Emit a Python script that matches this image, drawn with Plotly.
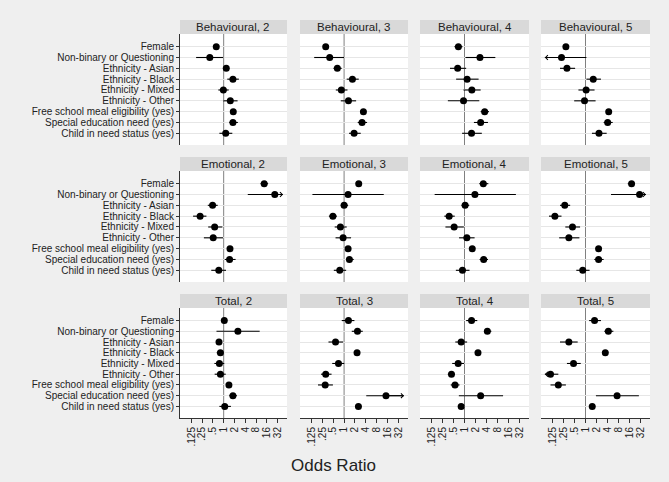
import math
import plotly.graph_objects as go
from plotly.subplots import make_subplots

categories = ["Female", "Non-binary or Questioning", "Ethnicity - Asian", "Ethnicity - Black",
              "Ethnicity - Mixed", "Ethnicity - Other", "Free school meal eligibility (yes)",
              "Special education need (yes)", "Child in need status (yes)"]

panel_titles = ["Behavioural, 2", "Behavioural, 3", "Behavioural, 4", "Behavioural, 5",
                "Emotional, 2", "Emotional, 3", "Emotional, 4", "Emotional, 5",
                "Total, 2", "Total, 3", "Total, 4", "Total, 5"]

tick_vals = [0.125, 0.25, 0.5, 1, 2, 4, 8, 16, 32]
tick_text = [".125", ".25", ".5", "1", "2", "4", "8", "16", "32"]

beh2_or = [0.62, 0.41, 1.18, 1.81, 0.98, 1.53, 1.85, 1.81, 1.14]
beh2_lo = [0.56, 0.17, 1.05, 1.26, 0.71, 0.97, 1.68, 1.43, 0.76]
beh2_hi = [0.69, 0.98, 1.32, 2.65, 1.38, 2.44, 2.04, 2.49, 1.74]

beh3_or = [0.31, 0.40, 0.65, 1.70, 0.84, 1.32, 3.42, 3.14, 1.89]
beh3_lo = [0.28, 0.149, 0.51, 1.18, 0.59, 0.81, 3.10, 2.38, 1.37]
beh3_hi = [0.34, 1.00, 0.86, 2.54, 1.24, 2.15, 3.80, 4.32, 2.88]

beh4_or = [0.68, 2.65, 0.65, 1.18, 1.59, 0.94, 3.57, 2.77, 1.56]
beh4_lo = [0.53, 1.06, 0.40, 0.59, 0.94, 0.35, 2.77, 1.81, 0.86]
beh4_hi = [0.88, 7.00, 1.11, 2.43, 2.77, 2.54, 4.70, 4.39, 2.98]

beh5_or = [0.29, 0.22, 0.31, 1.63, 1.04, 0.94, 4.32, 4.05, 2.34]
beh5_lo = [0.26, 0.05, 0.20, 1.06, 0.64, 0.49, 3.90, 3.14, 1.50]
beh5_hi = [0.33, 1.06, 0.52, 2.65, 1.77, 1.89, 4.80, 5.56, 3.80]

emo2_or = [13.5, 26.7, 0.49, 0.22, 0.56, 0.51, 1.50, 1.46, 0.73]
emo2_lo = [10.7, 4.7, 0.36, 0.14, 0.37, 0.28, 1.38, 1.07, 0.45]
emo2_hi = [17.4, 150.0, 0.68, 0.33, 0.92, 0.96, 1.63, 2.15, 1.16]

emo3_or = [2.54, 1.29, 1.00, 0.49, 0.79, 0.94, 1.29, 1.40, 0.76]
emo3_lo = [2.30, 0.133, 0.81, 0.38, 0.55, 0.58, 1.18, 1.14, 0.52]
emo3_hi = [2.80, 12.5, 1.29, 0.63, 1.18, 1.56, 1.41, 1.85, 1.14]

emo4_or = [3.28, 1.93, 1.04, 0.38, 0.52, 1.16, 1.63, 3.35, 0.88]
emo4_lo = [2.54, 0.152, 0.83, 0.28, 0.30, 0.71, 1.45, 2.59, 0.58]
emo4_hi = [4.50, 25.6, 1.35, 0.54, 0.96, 1.89, 1.80, 4.40, 1.37]

emo5_or = [18.3, 30.3, 0.27, 0.145, 0.44, 0.35, 2.28, 2.28, 0.84]
emo5_lo = [14.4, 5.0, 0.20, 0.10, 0.28, 0.19, 2.10, 1.74, 0.56]
emo5_hi = [22.6, 180.0, 0.38, 0.22, 0.71, 0.68, 2.50, 3.14, 1.29]

tot2_or = [1.04, 2.49, 0.74, 0.81, 0.76, 0.81, 1.40, 1.81, 1.07]
tot2_lo = [0.95, 0.63, 0.68, 0.64, 0.55, 0.56, 1.28, 1.43, 0.76]
tot2_hi = [1.15, 10.1, 0.82, 1.00, 1.04, 1.14, 1.52, 2.34, 1.59]

tot3_or = [1.32, 2.34, 0.58, 2.28, 0.70, 0.31, 0.30, 14.4, 2.49]
tot3_lo = [0.86, 1.63, 0.37, 2.10, 0.47, 0.23, 0.19, 4.1, 2.30]
tot3_hi = [1.93, 3.28, 0.94, 2.48, 1.02, 0.45, 0.49, 250.0, 2.70]

tot4_or = [1.56, 4.23, 0.81, 2.34, 0.67, 0.44, 0.55, 2.77, 0.81]
tot4_lo = [1.11, 3.42, 0.56, 2.15, 0.46, 0.35, 0.42, 0.70, 0.74]
tot4_hi = [2.24, 5.44, 1.18, 2.55, 0.98, 0.54, 0.73, 11.4, 0.88]

tot5_or = [1.77, 4.23, 0.35, 3.49, 0.47, 0.110, 0.18, 7.33, 1.53]
tot5_lo = [1.26, 3.28, 0.20, 3.20, 0.31, 0.05, 0.11, 1.93, 1.40]
tot5_hi = [2.65, 5.80, 0.61, 3.80, 0.74, 0.18, 0.29, 29.0, 1.67]

panels = [
    (beh2_or, beh2_lo, beh2_hi), (beh3_or, beh3_lo, beh3_hi), (beh4_or, beh4_lo, beh4_hi), (beh5_or, beh5_lo, beh5_hi),
    (emo2_or, emo2_lo, emo2_hi), (emo3_or, emo3_lo, emo3_hi), (emo4_or, emo4_lo, emo4_hi), (emo5_or, emo5_lo, emo5_hi),
    (tot2_or, tot2_lo, tot2_hi), (tot3_or, tot3_lo, tot3_hi), (tot4_or, tot4_lo, tot4_hi), (tot5_or, tot5_lo, tot5_hi),
]

W, H = 669, 482
CLIP_LO = 2 ** -3.7
CLIP_HI = 2 ** 5.5
XRANGE = [math.log10(2 ** -4.05), math.log10(2 ** 5.87)]

col_px = [(180, 287), (300, 408), (420, 529), (541, 650)]
row_px = [(34, 145), (171, 282), (308, 418)]
hdr_h = 14

FONT = "Liberation Sans, Arial, sans-serif"

fig = make_subplots(rows=3, cols=4, shared_xaxes=False, shared_yaxes=False)

for idx, (ors, los, his) in enumerate(panels):
    r, c = idx // 4, idx % 4
    xs, ys = [], []
    for cat, lo, hi in zip(categories, los, his):
        xs += [max(lo, CLIP_LO), min(hi, CLIP_HI), None]
        ys += [cat, cat, None]
    fig.add_trace(go.Scatter(x=xs, y=ys, mode="lines", line=dict(color="black", width=1.1),
                             hoverinfo="skip", showlegend=False), row=r + 1, col=c + 1)
    fig.add_trace(go.Scatter(x=ors, y=categories, mode="markers",
                             marker=dict(color="black", size=7, symbol="circle"),
                             showlegend=False), row=r + 1, col=c + 1)
    n = idx + 1
    xref = "x" if n == 1 else f"x{n}"
    yref = "y" if n == 1 else f"y{n}"
    for cat, o, lo, hi in zip(categories, ors, los, his):
        if lo < CLIP_LO:
            fig.add_annotation(x=math.log10(CLIP_LO), y=cat, ax=math.log10(o), ay=cat,
                               xref=xref, yref=yref, axref=xref, ayref=yref, text="",
                               showarrow=True, arrowhead=4, arrowsize=0.9, arrowwidth=1,
                               arrowcolor="black", standoff=0, startstandoff=0)
        if hi > CLIP_HI:
            fig.add_annotation(x=math.log10(CLIP_HI), y=cat, ax=math.log10(o), ay=cat,
                               xref=xref, yref=yref, axref=xref, ayref=yref, text="",
                               showarrow=True, arrowhead=4, arrowsize=0.9, arrowwidth=1,
                               arrowcolor="black", standoff=0, startstandoff=0)
    fig.add_shape(type="line", xref=xref, yref=f"{yref} domain", x0=1, x1=1, y0=0, y1=1,
                  line=dict(color="#808080", width=1), layer="below")

    x0, x1 = col_px[c]
    y0, y1 = row_px[r]
    xd = [x0 / W, x1 / W]
    yd = [1 - y1 / H, 1 - y0 / H]
    bottom = (r == 2)
    left = (c == 0)
    fig.update_xaxes(row=r + 1, col=c + 1, type="log", range=XRANGE, domain=xd, automargin=False,
                     tickmode="array", tickvals=tick_vals, ticktext=tick_text, showticklabels=bottom,
                     ticks="outside" if bottom else "", ticklen=4, tickcolor="#333",
                     tickangle=-90, tickfont=dict(size=10, color="#222", family=FONT),
                     showgrid=False, zeroline=False, showline=bottom, linecolor="#333",
                     linewidth=1, mirror=False)
    fig.update_yaxes(row=r + 1, col=c + 1, type="category", categoryorder="array",
                     categoryarray=categories, range=[9.08, -1.17], domain=yd, automargin=False,
                     tickmode="array", tickvals=categories, ticktext=categories,
                     showticklabels=left, ticks="outside" if left else "", ticklen=3,
                     tickcolor="#333", tickfont=dict(size=10, color="#222", family=FONT),
                     showgrid=True, gridcolor="#e6e6e6", gridwidth=1, zeroline=False,
                     showline=left, linecolor="#333", linewidth=1)
    fig.add_shape(type="rect", xref="paper", yref="paper", x0=xd[0], x1=xd[1],
                  y0=1 - y0 / H, y1=1 - (y0 - hdr_h) / H, fillcolor="#d9d9d9",
                  line=dict(width=0), layer="below")
    fig.add_annotation(x=(xd[0] + xd[1]) / 2, y=1 - (y0 - hdr_h / 2) / H, xref="paper", yref="paper",
                       text=panel_titles[idx], showarrow=False, xanchor="center", yanchor="middle",
                       font=dict(size=11.5, color="#222", family=FONT))

fig.add_annotation(x=333 / W, y=1 - 465 / H, xref="paper", yref="paper", text="Odds Ratio",
                   showarrow=False, xanchor="center", yanchor="middle",
                   font=dict(size=17, color="#222", family=FONT))

fig.update_layout(width=W, height=H, margin=dict(l=0, r=0, t=0, b=0, autoexpand=False),
                  paper_bgcolor="#efefef", plot_bgcolor="white", showlegend=False,
                  font=dict(family=FONT))

fig.write_html("out.html", config={"displayModeBar": False},
               post_script="document.body.style.margin='0';document.body.style.background='#efefef';")
